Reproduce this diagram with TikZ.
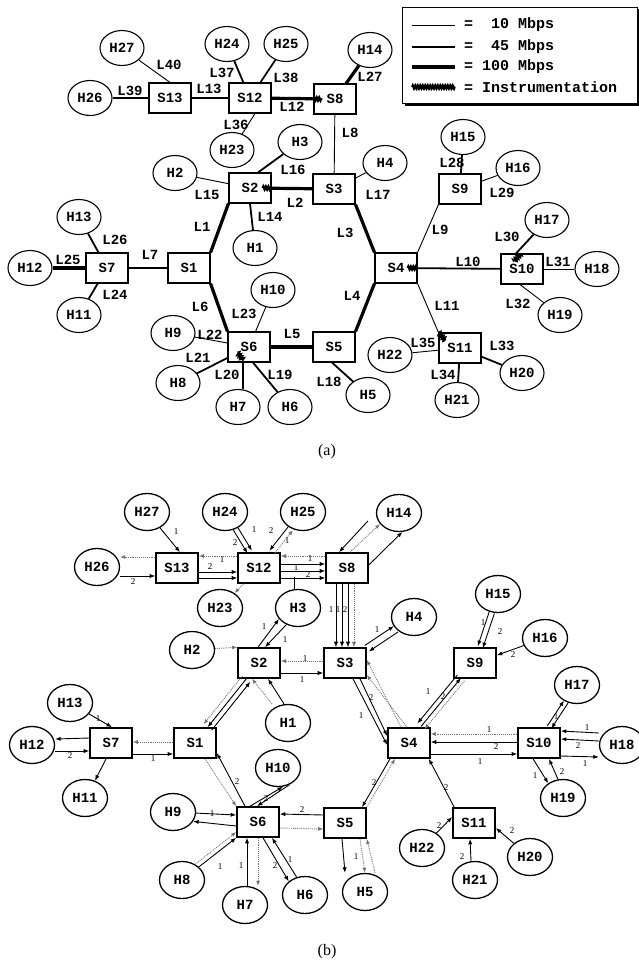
\documentclass[tikz,border=0pt]{standalone}
\usepackage{fontspec}
\setmonofont{Liberation Mono}
\setmainfont{Liberation Serif}
\usetikzlibrary{shapes.geometric,arrows.meta,decorations.pathmorphing,calc}
\begin{document}
\begin{tikzpicture}[x=1pt,y=-1pt,
  tt/.style={font=\fontsize{14}{14}\selectfont\ttfamily\bfseries},
  lab/.style={tt, inner sep=0},
  swa/.style={tt, draw, line width=1.1, minimum width=42, minimum height=30, inner sep=0, fill=white},
  hsa/.style={tt, draw, ellipse, line width=1.1, minimum width=44, minimum height=35, inner sep=0, fill=white},
  swb/.style={tt, draw, line width=1.6, minimum width=42, minimum height=30, inner sep=0, fill=white},
  hsb/.style={tt, draw, ellipse, line width=1.3, minimum width=45, minimum height=37, inner sep=0, fill=white},
  lthin/.style={line width=0.9},
  lmed/.style={line width=1.8},
  lthick/.style={line width=3.2},
  instr/.style={decorate, decoration={snake, amplitude=2, segment length=2.5}, line width=1.9},
  fl/.style={-{Latex[length=5.5,width=4.2]}, line width=0.9},
  dfl/.style={-{Latex[length=5,width=4]}, line width=0.9, densely dotted, black!55},
  num/.style={font=\fontsize{9}{9}\selectfont, inner sep=0},
  captxt/.style={font=\fontsize{16}{16}\selectfont, inner sep=0},
  legtxt/.style={lab, anchor=west, font=\fontsize{15}{15}\selectfont\ttfamily\bfseries}]
\useasboundingbox (0,0) rectangle (639,964);

% ================= (a) =================
\node[swa] (aS1) at (189,268) {S1};
\node[swa] (aS2) at (250,188) {S2};
\node[swa] (aS3) at (334,189) {S3};
\node[swa] (aS4) at (396,268) {S4};
\node[swa] (aS5) at (334,347) {S5};
\node[swa] (aS6) at (249,347) {S6};
\node[swa] (aS7) at (107,268) {S7};
\node[swa] (aS8) at (335,99) {S8};
\node[swa] (aS9) at (460,189) {S9};
\node[swa] (aS10) at (522,269) {S10};
\node[swa] (aS11) at (460,348) {S11};
\node[swa] (aS12) at (250,98) {S12};
\node[swa] (aS13) at (170,98) {S13};

\node[hsa] (aH1) at (255,248) {H1};
\node[hsa] (aH2) at (175,173) {H2};
\node[hsa] (aH3) at (300,142) {H3};
\node[hsa] (aH4) at (385,163) {H4};
\node[hsa] (aH5) at (368,395) {H5};
\node[hsa] (aH6) at (290,407) {H6};
\node[hsa] (aH7) at (238,407) {H7};
\node[hsa] (aH8) at (178,383) {H8};
\node[hsa] (aH9) at (173,333) {H9};
\node[hsa] (aH10) at (273,290) {H10};
\node[hsa] (aH11) at (79,315) {H11};
\node[hsa] (aH12) at (30,268) {H12};
\node[hsa] (aH13) at (79,217) {H13};
\node[hsa] (aH14) at (370,50) {H14};
\node[hsa] (aH15) at (463,137) {H15};
\node[hsa] (aH16) at (518,168) {H16};
\node[hsa] (aH17) at (547,220) {H17};
\node[hsa] (aH18) at (597,269) {H18};
\node[hsa] (aH19) at (560,315) {H19};
\node[hsa] (aH20) at (522,373) {H20};
\node[hsa] (aH21) at (457,400) {H21};
\node[hsa] (aH22) at (390,355) {H22};
\node[hsa] (aH23) at (232,150) {H23};
\node[hsa] (aH24) at (227,44) {H24};
\node[hsa] (aH25) at (286,44) {H25};
\node[hsa] (aH26) at (90,98) {H26};
\node[hsa] (aH27) at (122,48) {H27};

% links
\draw[lthick] (aS1.north east) -- (aS2.south west);
\draw[lthick] (aS2) -- (aS3);
\draw[lthick] (aS3.south east) -- (aS4.north west);
\draw[lthick] (aS4.south west) -- (aS5.north east);
\draw[lthick] (aS5) -- (aS6);
\draw[lthick] (aS6.north west) -- (aS1.south east);
\draw[lmed] (aS7) -- (aS1);
\draw[lthin] (aS8) -- (aS3);
\draw[lthin] (aS9.south west) -- (aS4.north east);
\draw[lmed] (aS4) -- (aS10);
\draw[lthin] (aS4.south east) -- (aS11.north west);
\draw[lthick] (aS12) -- (aS8);
\draw[lmed] (aS13) -- (aS12);
\draw[lmed] (aS2.south) -- (aH1);
\draw[lthin] (aH2) -- (aS2);
\draw[lmed] ([xshift=8]aS2.north) -- (aH3);
\draw[lthin] (aS3) -- (aH4);
\draw[lmed] ([xshift=-2]aS5.south) -- (aH5);
\draw[lmed] ([xshift=4]aS6.south) -- (aH6);
\draw[lmed] ([xshift=-6]aS6.south) -- ([xshift=5]aH7.north);
\draw[lmed] (aS6) -- (aH8);
\draw[lthin] (aH9) -- (aS6);
\draw[lthin] (aS6) -- (aH10);
\draw[lmed] (aS7) -- (aH11);
\draw[lthick] (aH12) -- (aS7);
\draw[lmed] (aH13) -- (aS7);
\draw[lthick] (aS8) -- (aH14);
\draw[lmed] (aH15) -- (aS9);
\draw[lthin] (aS9) -- (aH16);
\draw[lmed] ([xshift=-6]aS10.north) -- (aH17);
\draw[lthin] (aS10) -- (aH18);
\draw[lthin] ([xshift=-2]aS10.south) -- (aH19);
\draw[lmed] (aS11) -- (aH20);
\draw[lmed] (aS11) -- (aH21);
\draw[lthin] (aH22) -- (aS11);
\draw[lthin] ([xshift=5]aS12.south) -- (aH23);
\draw[lmed] (aH24) -- (aS12);
\draw[lmed] (aH25) -- (aS12);
\draw[lmed] (aH26) -- (aS13);
\draw[lthin] (aS13.north) -- (aH27);

% instrumentation marks
\draw[instr] ([xshift=-9]aS2.east) -- (aS2.east);
\draw[instr] (aS8.west) -- ([xshift=9]aS8.west);
\draw[instr] ([xshift=-10]aS4.east) -- (aS4.east);
\draw[instr] ([xshift=-8,yshift=-8]aS10.north) -- ([xshift=-1]aS10.north);
\draw[instr] (aS11.north west) -- ([xshift=7,yshift=-8]aS11.north west);
\draw[instr] ([xshift=10,yshift=10]aS6.south west) -- ([xshift=16,yshift=2]aS6.south west);

% link labels
\node[lab] at (202,227) {L1};
\node[lab] at (295,203) {L2};
\node[lab] at (345,233) {L3};
\node[lab] at (352,296) {L4};
\node[lab] at (292,334) {L5};
\node[lab] at (200,307) {L6};
\node[lab] at (150,255) {L7};
\node[lab] at (350,133) {L8};
\node[lab] at (440,230) {L9};
\node[lab] at (468,262) {L10};
\node[lab] at (447,306) {L11};
\node[lab] at (292,107) {L12};
\node[lab] at (209,89) {L13};
\node[lab] at (270,217) {L14};
\node[lab] at (207,195) {L15};
\node[lab] at (293,170) {L16};
\node[lab] at (378,195) {L17};
\node[lab] at (329,382) {L18};
\node[lab] at (280,375) {L19};
\node[lab] at (227,375) {L20};
\node[lab] at (198,358) {L21};
\node[lab] at (210,335) {L22};
\node[lab] at (244,314) {L23};
\node[lab] at (115,295) {L24};
\node[lab] at (68,260) {L25};
\node[lab] at (115,240) {L26};
\node[lab] at (370,77) {L27};
\node[lab] at (452,163) {L28};
\node[lab] at (502,193) {L29};
\node[lab] at (507,237) {L30};
\node[lab] at (558,262) {L31};
\node[lab] at (518,304) {L32};
\node[lab] at (502,346) {L33};
\node[lab] at (443,375) {L34};
\node[lab] at (423,343) {L35};
\node[lab] at (236,125) {L36};
\node[lab] at (222,73) {L37};
\node[lab] at (286,78) {L38};
\node[lab] at (130,91) {L39};
\node[lab] at (169,65) {L40};

% legend
\node[draw, line width=1, minimum width=235, minimum height=96, inner sep=0] (leg) at (519.5,55) {};
\draw[line width=2.5] ([xshift=3,yshift=-1.5]leg.south west) -- ([xshift=2,yshift=-1.5]leg.south east) -- ([xshift=2,yshift=-2]leg.north east);
\draw[lthin] (412,25) -- (455,25);
\draw[lmed] (412,47) -- (455,47);
\draw[lthick] (412,67) -- (455,67);
\draw[instr] (412,87) -- (455,87);
\node[legtxt] at (464,25) {=\ \ 10 Mbps};
\node[legtxt] at (464,47) {=\ \ 45 Mbps};
\node[legtxt] at (464,67) {= 100 Mbps};
\node[legtxt] at (464,87) {= Instrumentation};

\node[captxt] at (327,452) {(a)};

% ================= (b) =================
\node[swb] (bS1) at (195,743) {S1};
\node[swb] (bS2) at (259,663) {S2};
\node[swb] (bS3) at (345,663) {S3};
\node[swb] (bS4) at (409,743) {S4};
\node[swb] (bS5) at (345,823) {S5};
\node[swb] (bS6) at (258,822) {S6};
\node[swb] (bS7) at (111,743) {S7};
\node[swb] (bS8) at (347,568) {S8};
\node[swb] (bS9) at (475,663) {S9};
\node[swb] (bS10) at (539,743) {S10};
\node[swb] (bS11) at (474,823) {S11};
\node[swb] (bS12) at (259,568) {S12};
\node[swb] (bS13) at (177,568) {S13};

\node[hsb] (bH1) at (288,723) {H1};
\node[hsb] (bH2) at (192,650) {H2};
\node[hsb] (bH3) at (298,608) {H3};
\node[hsb] (bH4) at (414,617) {H4};
\node[hsb] (bH5) at (365,892) {H5};
\node[hsb] (bH6) at (305,895) {H6};
\node[hsb] (bH7) at (245,905) {H7};
\node[hsb] (bH8) at (182,880) {H8};
\node[hsb] (bH9) at (173,812) {H9};
\node[hsb] (bH10) at (278,768) {H10};
\node[hsb] (bH11) at (85,798) {H11};
\node[hsb] (bH12) at (32,745) {H12};
\node[hsb] (bH13) at (70,703) {H13};
\node[hsb] (bH14) at (399,513) {H14};
\node[hsb] (bH15) at (498,594) {H15};
\node[hsb] (bH16) at (545,638) {H16};
\node[hsb] (bH17) at (577,685) {H17};
\node[hsb] (bH18) at (622,745) {H18};
\node[hsb] (bH19) at (563,798) {H19};
\node[hsb] (bH20) at (530,857) {H20};
\node[hsb] (bH21) at (475,880) {H21};
\node[hsb] (bH22) at (422,848) {H22};
\node[hsb] (bH23) at (220,608) {H23};
\node[hsb] (bH24) at (225,512) {H24};
\node[hsb] (bH25) at (303,512) {H25};
\node[hsb] (bH26) at (97,567) {H26};
\node[hsb] (bH27) at (147,512) {H27};

% flows: S13 / S12 area
\draw[fl] (bH27) -- ([xshift=3]bS13.north); \node[num] at (176,532) {1};
\draw[dfl] ([yshift=11]bS13.west) -- ([yshift=10]bH26.east);
\draw[fl] ([yshift=-9]bH26.east) -- ([yshift=-8]bS13.west); \node[num] at (133,582) {2};
\draw[dfl] ([yshift=12]bS12.west) -- ([yshift=12]bS13.east); \node[num] at (222,560) {1};
\draw[fl] ([yshift=-4]bS13.east) -- ([yshift=-4]bS12.west); \node[num] at (210,567) {2};
\draw[fl] ([yshift=-10]bS13.east) -- ([yshift=-10]bS12.west);
\draw[fl, transform canvas={shift={(-2,1)}}] (bH24) -- (bS12);
\draw[fl, transform canvas={shift={(2.5,-1.5)}}] (bH24) -- (bS12);
\node[num] at (235,543) {2}; \node[num] at (254,530) {1};
\draw[fl, transform canvas={shift={(-2,-1.5)}}] (bH25) -- (bS12);
\draw[dfl, transform canvas={shift={(2.5,2)}}] (bS12) -- (bH25);
\node[num] at (271,531) {2}; \node[num] at (287,541) {1};
\draw[dfl] ([yshift=12]bS8.west) -- ([yshift=12]bS12.east); \node[num] at (310,559) {1};
\draw[fl] ([yshift=4]bS12.east) -- ([yshift=4]bS8.west);
\draw[fl] ([yshift=-3]bS12.east) -- ([yshift=-3]bS8.west);
\draw[fl] ([yshift=-10]bS12.east) -- ([yshift=-10]bS8.west);
\node[num] at (296,568) {1}; \node[num] at (308,575) {2};
\draw[dfl] (bS12) -- (bH23);
\draw ([xshift=-4]bH3.north) -- ++(0,-12);

% S8 / H14 / S3
\draw[fl] ([yshift=3]bS8.east) -- (bH14.-80);
\draw[dfl] ([xshift=3]bS8.north) -- (bH14.-150);
\draw[fl] ([xshift=-8,yshift=-8]bH14.west) -- ([xshift=-8]bS8.north);
\draw[fl] ([xshift=-11]bS8.south) -- ([xshift=-9]bS3.north);
\draw[fl] ([xshift=-5]bS8.south) -- ([xshift=-3]bS3.north);
\draw[fl] ([xshift=1]bS8.south) -- ([xshift=3]bS3.north);
\draw[dfl] ([xshift=7]bS8.south) -- ([xshift=9]bS3.north);
\node[num] at (331,610) {1}; \node[num] at (338,610) {1}; \node[num] at (345,610) {2};

% S2 area
\draw[fl] ([xshift=-1]bS2.north) -- (bH3.-150); \node[num] at (264,627) {1};
\draw[fl] (bH3.-125) -- ([xshift=6]bS2.north); \node[num] at (285,640) {1};
\draw[dfl] (bH2) -- (bS2.north west);
\draw[dfl] ([yshift=2]bS3.west) -- ([yshift=2]bS2.east); \node[num] at (305,659) {1};
\draw[fl] ([yshift=-10]bS2.east) -- ([yshift=-10]bS3.west); \node[num] at (302,680) {1};
\draw[fl] ([xshift=-4]bH1.north) -- ([xshift=9]bS2.south);
\draw[dfl] ([xshift=-16]bH1.north) -- ([xshift=-7]bS2.south);
\draw[fl, transform canvas={shift={(4,3)}}] (bS1) -- (bS2);
\draw[fl] (bS2) -- (bS1);
\draw[dfl, transform canvas={shift={(-4,-3)}}] (bS2) -- (bS1);

% S3 / H4 / S4
\draw[fl, transform canvas={shift={(-2,-3)}}] (bS3) -- (bH4); \node[num] at (377,630) {1};
\draw[fl, transform canvas={shift={(2,3)}}] (bH4) -- (bS3);
\draw[fl] ([xshift=8]bS3.south) -- ([yshift=-2]bS4.west); \node[num] at (361,716) {1};
\draw[fl] ([xshift=15]bS3.south) -- ([yshift=7]bS4.west); \node[num] at (371,698) {2};
\draw[dfl] ([xshift=-8]bS4.north) -- ([yshift=3]bS3.east);
\draw[dfl] ([xshift=-2]bS4.north) -- ([yshift=-12]bS3.east);

% S9 area
\draw[fl, transform canvas={shift={(-4.6,-3.8)}}] (bS9) -- (bS4); \node[num] at (428,692) {1};
\draw[fl, transform canvas={shift={(-1,-0.8)}}] (bS4) -- (bS9); \node[num] at (443,697) {2};
\draw[dfl, transform canvas={shift={(2.5,2)}}] (bS9) -- (bS4);
\draw[fl, transform canvas={shift={(-2.5,-1)}}] (bH15) -- (bS9); \node[num] at (483,623) {1};
\draw[fl, transform canvas={shift={(2.5,1)}}] (bH15) -- (bS9); \node[num] at (500,632) {2};
\draw[fl] (bH16) -- (bS9); \node[num] at (513,655) {2};

% S10 area
\draw[fl, transform canvas={shift={(-2,-1.3)}}] (bS10) -- (bH17);
\draw[fl, transform canvas={shift={(2,1.3)}}] (bH17) -- (bS10); \node[num] at (556,717) {1};
\draw[dfl] ([yshift=9]bS10.west) -- ([yshift=9]bS4.east); \node[num] at (489,730) {1};
\draw[fl] ([yshift=1]bS10.west) -- ([yshift=1]bS4.east); \node[num] at (496,747) {2};
\draw[fl] ([yshift=-11]bS4.east) -- ([yshift=-11]bS10.west); \node[num] at (480,762) {1};
\draw[fl] ([yshift=12]bH18.west) -- ([yshift=12]bS10.east); \node[num] at (587,728) {1};
\draw[fl] ([yshift=4]bH18.west) -- ([yshift=4]bS10.east); \node[num] at (578,746) {2};
\draw[fl] ([yshift=-13]bS10.east) -- ([yshift=-12]bH18.west); \node[num] at (585,764) {1};
\draw[fl] ([xshift=-6]bS10.south) -- (bH19.135); \node[num] at (535,776) {1};
\draw[fl] (bH19.105) -- ([xshift=10]bS10.south); \node[num] at (562,772) {2};

% S11 area
\draw[fl] ([xshift=2]bS11.north west) -- ([xshift=-2]bS4.south east); \node[num] at (446,788) {2};
\draw[fl] (bH22) -- ([yshift=6]bS11.west); \node[num] at (439,826) {2};
\draw[fl] ([xshift=-4]bH21.north) -- ([xshift=-4]bS11.south); \node[num] at (462,857) {2};
\draw[fl] (bH20) -- ([yshift=-5]bS11.east); \node[num] at (512,831) {2};

% S5 area
\draw[fl] ([xshift=-19]bS4.south) -- ([xshift=17]bS5.north); \node[num] at (374,783) {2};
\draw[dfl] (bS5.north east) -- ([xshift=-14]bS4.south);
\draw[fl] ([yshift=8]bS5.west) -- ([yshift=8]bS6.east); \node[num] at (302,810) {2};
\draw[dfl] ([yshift=-6]bS6.east) -- ([yshift=-6]bS5.west);
\draw[fl] ([xshift=-3]bS5.south) -- ([xshift=-20]bH5.north);
\draw[dfl] ([xshift=15]bS5.south) -- (bH5.north); \node[num] at (356,857) {1};
\draw[dfl] ([xshift=10]bH5.north) -- (bS5.south east);

% S6 area
\draw[fl] ([xshift=-8]bS6.north) -- (bH10.-75); \node[num] at (266,799) {2};
\draw[fl] (bH10.-55) -- ([xshift=-1]bS6.north);
\draw[fl] ([xshift=-13]bS6.north) -- ([yshift=-10]bS1.east); \node[num] at (237,782) {2};
\draw[dfl] ([xshift=10]bS1.south) -- (bS6.north west);
\draw[fl] (bH9) -- ([yshift=7]bS6.west); \node[num] at (212,814) {1};
\draw[fl] ([yshift=-4]bS6.west) -- (bH9.-25);
\draw[dfl] (bH8.50) -- ([yshift=-10]bS6.west);
\draw[fl] (bH8) -- (bS6.south west); \node[num] at (220,867) {1};
\draw[fl] ([xshift=2]bH7.north) -- ([xshift=-11]bS6.south); \node[num] at (241,866) {1};
\draw[dfl] (bS6.south) -- ([xshift=13]bH7.north);
\draw[fl] ([xshift=5]bS6.south) -- (bH6.140); \node[num] at (275,866) {2};
\draw[fl] (bH6.115) -- ([xshift=14]bS6.south); \node[num] at (290,860) {1};

% S7 area
\draw[fl] (bH13) -- ([xshift=1]bS7.north); \node[num] at (98,719) {1};
\draw[fl] ([yshift=5]bS7.west) -- ([yshift=6]bH12.east);
\draw[fl] ([yshift=-6]bH12.east) -- ([yshift=-8]bS7.west); \node[num] at (70,756) {2};
\draw[fl] ([xshift=-5]bS7.south) -- (bH11.60);
\draw[dfl] ([yshift=1]bS1.west) -- ([yshift=1]bS7.east);
\draw[fl] ([yshift=-11]bS7.east) -- ([yshift=-11]bS1.west); \node[num] at (153,759) {1};

\node[captxt] at (327,952) {(b)};
\end{tikzpicture}
\end{document}
